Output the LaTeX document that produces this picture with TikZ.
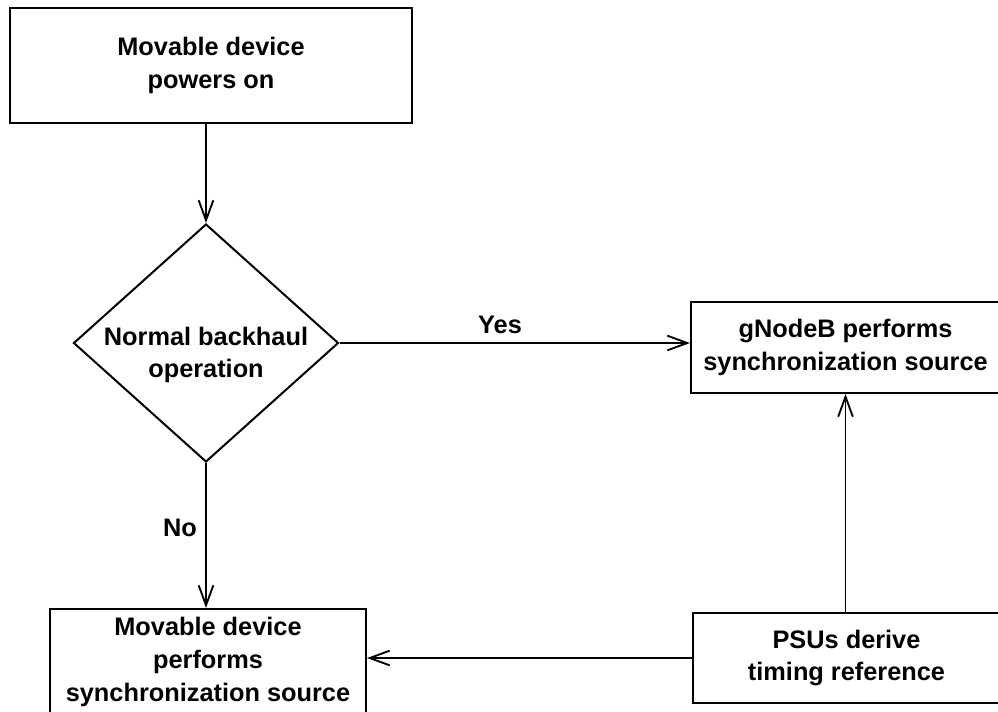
\documentclass[tikz,border=0pt]{standalone}
\usepackage{fontspec}
\setmainfont{Liberation Sans}
\usetikzlibrary{shapes.geometric,arrows.meta}
\tikzset{
  box/.style={draw, line width=1.5pt, rectangle, inner sep=2pt, align=center, font=\fontsize{19pt}{24.5pt}\selectfont\bfseries},
  txt/.style={inner sep=0pt, align=center, font=\fontsize{19pt}{24.5pt}\selectfont\bfseries},
  dec/.style={draw, line width=1.5pt, diamond, inner sep=0pt},
  conn/.style={line width=1.4pt, -{Straight Barb[length=15pt,width=11pt,line width=1.4pt]}},
}
\begin{document}
\begin{tikzpicture}[x=0.75pt,y=-0.75pt]
\useasboundingbox (0,0) rectangle (998,711);
\clip (0,0) rectangle (998,711);
\node[box, minimum width=301.5pt, minimum height=86.25pt] (top) at (211,65.5) {Movable device\\powers on};
\node[dec, minimum width=198.75pt, minimum height=178.5pt] (dec) at (206,343) {};
\node[txt] (dect) at (206,355) {Normal backhaul\\operation};
\node[box, minimum width=231.75pt, minimum height=68.25pt] (gnb) at (845.5,347.5) {gNodeB performs\\synchronization source};
\node[box, minimum width=237pt, minimum height=79.5pt] (mov) at (208,662) {Movable device\\performs\\synchronization source};
\node[box, minimum width=230.25pt, minimum height=67.5pt] (psu) at (846.5,658) {PSUs derive\\timing reference};
\node[txt] (yes) at (500,325) {Yes};
\node[txt] (no) at (180,528) {No};
\draw[conn] (dec.north |- top.south) -- (dec.north);
\draw[conn] (dec.east) -- (dec.east -| gnb.west);
\draw[conn] (dec.south) -- (dec.south |- mov.north);
\draw[conn] (gnb.south |- psu.north) -- (gnb.south);
\draw[conn] (psu.west) -- (psu.west -| mov.east);
\end{tikzpicture}
\end{document}
